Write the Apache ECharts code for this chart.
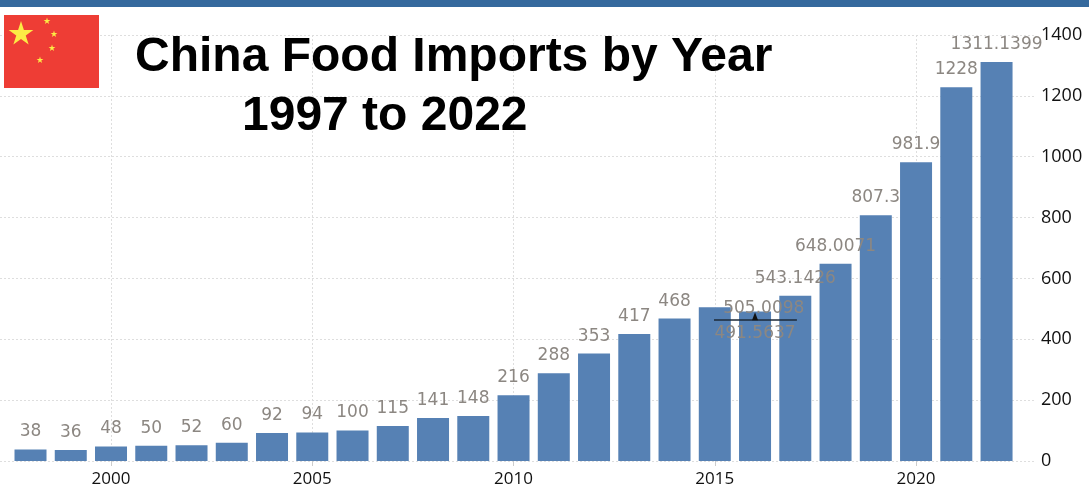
<!DOCTYPE html>
<html>
<head>
<meta charset="utf-8">
<title>China Food Imports by Year</title>
<style>
  html, body { margin: 0; padding: 0; background: #fff; }
  #chart { width: 1089px; height: 491px; }
</style>
<script src="https://cdn.jsdelivr.net/npm/echarts@6/dist/echarts.min.js"></script>
</head>
<body>
<div id="chart"></div>
<script>
const years = [1998, 1999, 2000, 2001, 2002, 2003, 2004, 2005, 2006, 2007, 2008, 2009, 2010,
               2011, 2012, 2013, 2014, 2015, 2016, 2017, 2018, 2019, 2020, 2021, 2022];
const imports = [38, 36, 48, 50, 52, 60, 92, 94, 100, 115, 141, 148, 216,
                 288, 353, 417, 468, 505.0098, 491.5637, 543.1426, 648.0071, 807.3, 981.9, 1228, 1311.1399];
const yearTicks = [2000, 2005, 2010, 2015, 2020];
const titleLines = ['China Food Imports by Year', '1997 to 2022'];

// The two crowded labels around 2015-2016 sit off their usual spot.
const labelOffsets = { 2015: [49, 19], 2016: [0, 40] };

// Five-pointed star outline for the flag.
function star(cx, cy, r) {
  const pts = [];
  for (let i = 0; i < 10; i++) {
    const rad = i % 2 ? r * 0.382 : r;
    const a = -Math.PI / 2 + i * Math.PI / 5;
    pts.push([cx + rad * Math.cos(a), cy + rad * Math.sin(a)]);
  }
  return pts;
}
const flagStars = [[21, 34, 13], [47, 21, 3.6], [54, 34, 3.6], [52, 48, 3.6], [40, 60, 3.6]];

const chart = echarts.init(document.getElementById('chart'), null, { renderer: 'canvas' });

const gridLine = { show: true, lineStyle: { color: '#dedede', type: [2, 2], width: 1 } };
const axisFont = 'Open Sans';

chart.setOption({
  animation: false,
  backgroundColor: '#ffffff',
  title: [
    { text: titleLines[0], left: 130, top: 29,
      textStyle: { fontFamily: 'Liberation Sans', fontWeight: 'bold', fontSize: 48, color: '#000' } },
    { text: titleLines[1], left: 237, top: 88,
      textStyle: { fontFamily: 'Liberation Sans', fontWeight: 'bold', fontSize: 48, color: '#000' } }
  ],
  grid: { left: 0, right: 53, top: 35, bottom: 30 },
  xAxis: {
    type: 'value',
    min: 1997.242,
    max: 2022.98,
    axisLine: { show: false },
    axisTick: { show: true, length: 5, customValues: yearTicks, lineStyle: { color: '#cccccc' } },
    axisLabel: { customValues: yearTicks, margin: 10, fontFamily: axisFont, fontSize: 17, color: '#111',
                 formatter: v => String(v) },
    splitLine: gridLine
  },
  yAxis: {
    type: 'value',
    position: 'right',
    min: 0,
    max: 1400,
    interval: 200,
    axisLine: { show: false },
    axisTick: { show: false },
    axisLabel: { margin: 5, fontFamily: axisFont, fontSize: 18, color: '#111', formatter: v => String(v) },
    splitLine: gridLine
  },
  series: [{
    type: 'bar',
    barWidth: 32,
    itemStyle: { color: '#5681B4' },
    data: years.map((year, i) => ({
      value: [year, imports[i]],
      label: labelOffsets[year] ? { offset: labelOffsets[year] } : undefined
    })),
    label: {
      show: true,
      position: 'top',
      distance: 9,
      fontFamily: 'DejaVu Sans',
      fontSize: 17,
      color: '#8c8782',
      formatter: p => String(p.value[1])
    },
    z: 2,
    markLine: {
      silent: true,
      symbol: 'none',
      label: { show: false },
      lineStyle: { color: '#1d2a38', type: 'solid', width: 1.5 },
      data: [[{ coord: [2014.98, 465] }, { coord: [2017.04, 465] }]]
    },
    markPoint: {
      silent: true,
      symbol: 'triangle',
      symbolSize: [6, 8],
      itemStyle: { color: '#111' },
      label: { show: false },
      data: [{ coord: [2016, 476] }]
    }
  }],
  graphic: [
    { type: 'rect', left: 0, top: 0, shape: { width: 1089, height: 7 }, style: { fill: '#35699D' }, z: 10 },
    { type: 'rect', shape: { x: 4, y: 15, width: 95, height: 73 }, style: { fill: '#EE3D35' }, z: 10 },
    ...flagStars.map(([x, y, r]) => ({
      type: 'polygon', shape: { points: star(x, y, r) }, style: { fill: '#FCEB45' }, z: 11
    }))
  ]
});
</script>
</body>
</html>
